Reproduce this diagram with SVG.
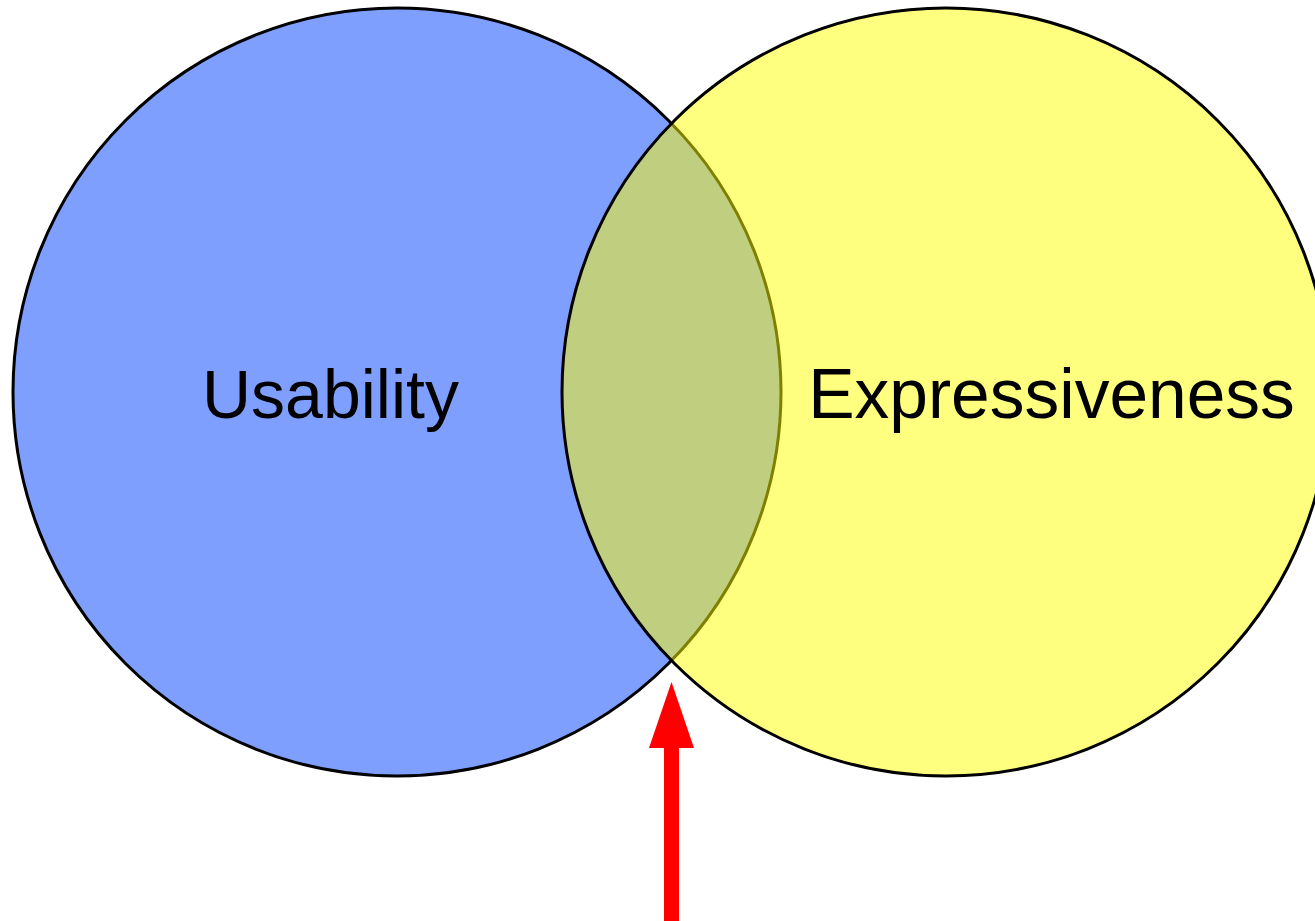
<svg xmlns="http://www.w3.org/2000/svg" width="1315" height="921" viewBox="0 0 1315 921">
  <style>
    .set { stroke: #000; stroke-width: 3; fill-opacity: 0.5; }
    .label { font-family: "Liberation Sans", Arial, sans-serif; font-size: 68px; fill: #000; text-anchor: middle; }
  </style>
  <rect width="1315" height="921" fill="#fff"/>
  <g id="usability">
    <circle class="set" cx="397" cy="392" r="384" fill="#0040ff"/>
    <text class="label" x="330.5" y="418">Usability</text>
  </g>
  <g id="expressiveness">
    <circle class="set" cx="946" cy="392" r="384" fill="#ffff00"/>
    <text class="label" x="1051.5" y="418" style="font-size:69.5px">Expressiveness</text>
  </g>
  <g id="connectors">
    <polygon points="671.5,682 649,748 694,748" fill="#ff0000"/>
    <rect x="664" y="747" width="15" height="174" fill="#ff0000"/>
  </g>
</svg>
